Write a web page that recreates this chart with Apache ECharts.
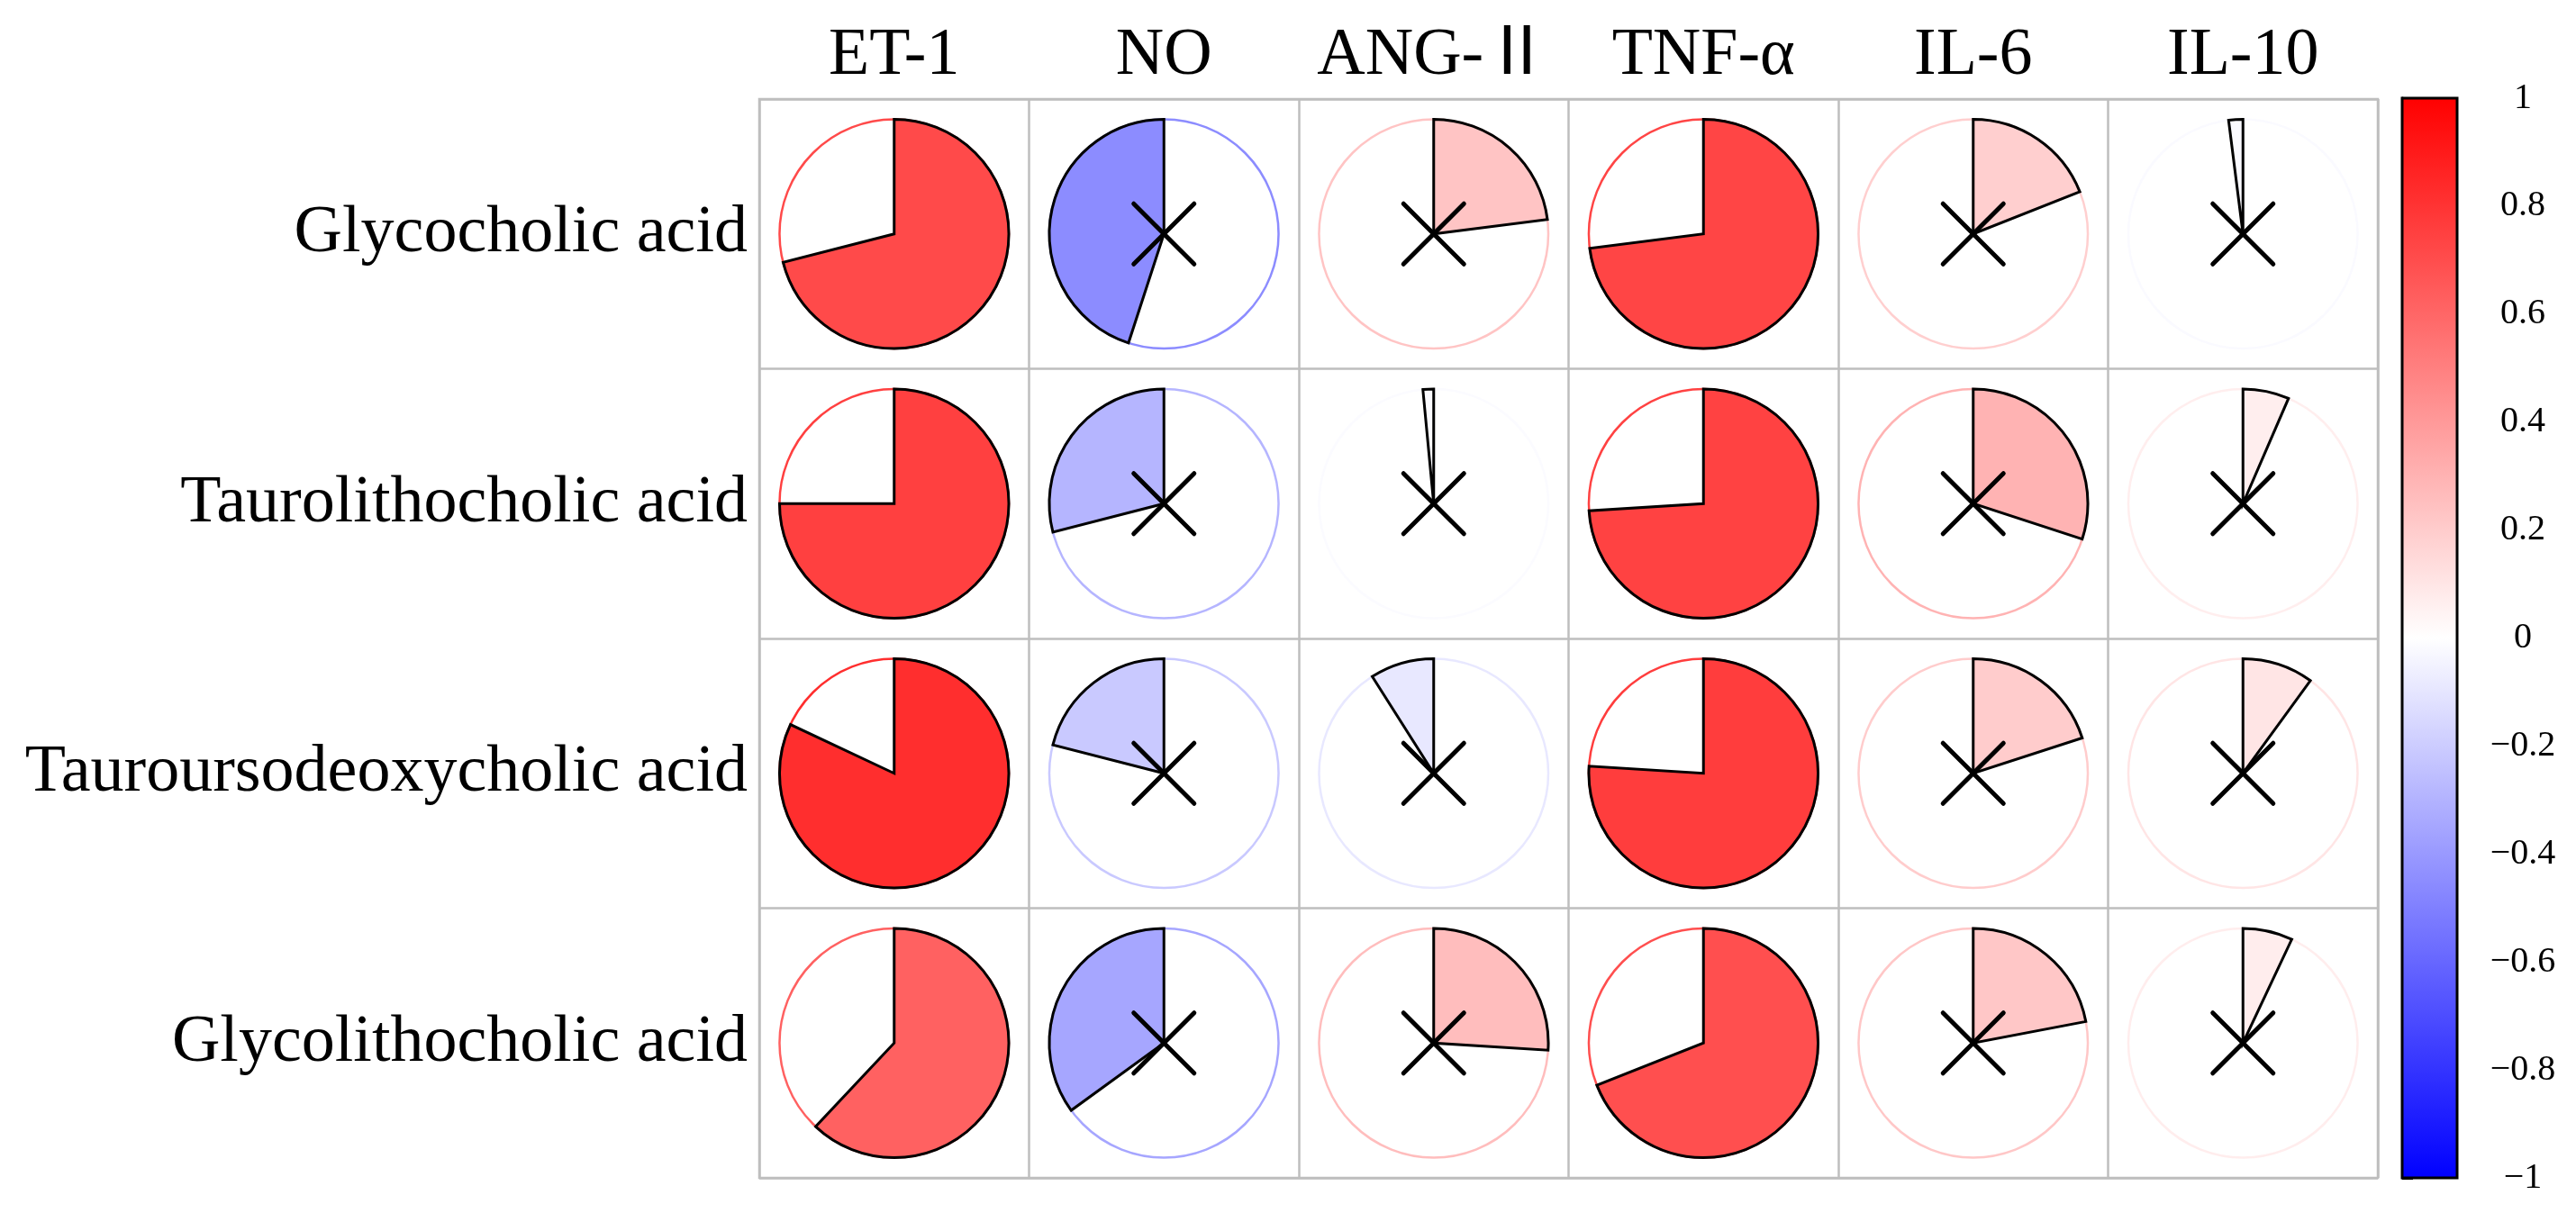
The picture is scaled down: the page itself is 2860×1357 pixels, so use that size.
<!DOCTYPE html>
<html>
<head>
<meta charset="utf-8">
<script src="https://cdn.jsdelivr.net/npm/echarts@6/dist/echarts.min.js"></script>
<style>
html,body{margin:0;padding:0;background:#fff;}
#chart{width:2860px;height:1357px;}
</style>
</head>
<body>
<div id="chart"></div>
<script>
// ---- data ----
const variables = ['ET-1', 'NO', 'ANG-Ⅱ', 'TNF-α', 'IL-6', 'IL-10'];
const acids = ['Glycocholic acid', 'Taurolithocholic acid', 'Tauroursodeoxycholic acid', 'Glycolithocholic acid'];
const corrGlycocholic = [0.71, -0.45, 0.23, 0.73, 0.19, -0.02];
const corrTaurolithocholic = [0.75, -0.29, -0.015, 0.74, 0.30, 0.065];
const corrTauroursodeoxycholic = [0.82, -0.21, -0.09, 0.76, 0.20, 0.10];
const corrGlycolithocholic = [0.62, -0.35, 0.26, 0.69, 0.22, 0.07];
const sigGlycocholic = [1, 0, 0, 1, 0, 0];
const sigTaurolithocholic = [1, 0, 0, 1, 0, 0];
const sigTauroursodeoxycholic = [1, 0, 0, 1, 0, 0];
const sigGlycolithocholic = [1, 0, 0, 1, 0, 0];
const colorbarMin = -1;
const colorbarMax = 1;
const colorbarStep = 0.2;

const corrRows = [corrGlycocholic, corrTaurolithocholic, corrTauroursodeoxycholic, corrGlycolithocholic];
const sigRows = [sigGlycocholic, sigTaurolithocholic, sigTauroursodeoxycholic, sigGlycolithocholic];

const cells = [];
corrRows.forEach((row, r) => {
  row.forEach((v, c) => {
    cells.push([c, r, v, sigRows[r][c]]);
  });
});

const FONT = "Liberation Serif, Noto Sans CJK SC, serif";

function renderCell(params, api) {
  const c = api.coord([api.value(0), api.value(1)]);
  const s = api.size([1, 1]);
  const cell = Math.min(s[0], s[1]);
  const R = cell * 0.425;
  const v = api.value(2);
  const sig = api.value(3);
  const color = api.visual('color');
  const start = -Math.PI / 2;
  const span = 2 * Math.PI * Math.abs(v);
  const children = [
    {
      type: 'circle',
      shape: { cx: c[0], cy: c[1], r: R },
      style: { fill: '#ffffff', stroke: color, lineWidth: 2.5 }
    },
    {
      type: 'sector',
      shape: {
        cx: c[0], cy: c[1], r0: 0, r: R,
        startAngle: v >= 0 ? start : start - span,
        endAngle: v >= 0 ? start + span : start,
        clockwise: true
      },
      style: { fill: color, stroke: '#000000', lineWidth: 3, lineJoin: 'miter' }
    }
  ];
  if (!sig) {
    const h = cell * 0.112;
    children.push({
      type: 'line',
      shape: { x1: c[0] - h, y1: c[1] - h, x2: c[0] + h, y2: c[1] + h },
      style: { stroke: '#000000', lineWidth: 5, lineCap: 'round' }
    });
    children.push({
      type: 'line',
      shape: { x1: c[0] + h, y1: c[1] - h, x2: c[0] - h, y2: c[1] + h },
      style: { stroke: '#000000', lineWidth: 5, lineCap: 'round' }
    });
  }
  return { type: 'group', children: children };
}

function renderColorbar(params, api) {
  const p0 = api.coord([0, colorbarMax]);
  const p1 = api.coord([1, colorbarMin]);
  return {
    type: 'rect',
    shape: { x: p0[0], y: p0[1], width: p1[0] - p0[0], height: p1[1] - p0[1] },
    style: {
      fill: new echarts.graphic.LinearGradient(0, 0, 0, 1, [
        { offset: 0, color: '#FF0000' },
        { offset: 0.5, color: '#FFFFFF' },
        { offset: 1, color: '#0000FF' }
      ]),
      stroke: '#000000',
      lineWidth: 3
    }
  };
}

const bigText = { fontSize: 74, fontFamily: FONT, fontWeight: 'normal', color: '#000000' };
const smallText = { fontSize: 40, fontFamily: FONT, fontWeight: 'normal', color: '#000000' };

const chart = echarts.init(document.getElementById('chart'), null, { renderer: 'canvas' });
chart.setOption({
  backgroundColor: '#ffffff',
  animation: false,
  textStyle: { fontFamily: FONT, color: '#000000' },
  grid: [
    { left: 843, top: 110, width: 1797, height: 1198, show: true, borderColor: '#BEBEBE', borderWidth: 2.5, backgroundColor: 'transparent', containLabel: false },
    { left: 2667, top: 109, width: 61, height: 1199, show: false, containLabel: false }
  ],
  xAxis: [
    {
      type: 'category', gridIndex: 0, data: variables, position: 'top',
      axisLine: { show: false }, axisTick: { show: false },
      splitLine: { show: true, interval: 0, lineStyle: { color: '#BEBEBE', width: 2.5 } },
      axisLabel: Object.assign({ interval: 0, margin: 10 }, bigText)
    },
    {
      type: 'value', gridIndex: 1, min: 0, max: 1, show: false
    }
  ],
  yAxis: [
    {
      type: 'category', gridIndex: 0, data: acids, inverse: true,
      axisLine: { show: false }, axisTick: { show: false },
      splitLine: { show: true, interval: 0, lineStyle: { color: '#BEBEBE', width: 2.5 } },
      axisLabel: Object.assign({ interval: 0, margin: 13 }, bigText)
    },
    {
      type: 'value', gridIndex: 1, min: colorbarMin, max: colorbarMax, interval: colorbarStep,
      position: 'right',
      axisLine: { show: true, lineStyle: { color: '#000000', width: 3 } },
      axisTick: { show: true, inside: false, length: 12, lineStyle: { color: '#000000', width: 3 } },
      splitLine: { show: false },
      axisLabel: Object.assign({
        margin: 73, align: 'center',
        showMinLabel: true, showMaxLabel: true,
        formatter: function (v) {
          const n = parseFloat(Number(v).toFixed(1));
          return (n < 0 ? '\u2212' : '') + String(Math.abs(n));
        }
      }, smallText)
    }
  ],
  visualMap: {
    type: 'continuous', show: false, min: colorbarMin, max: colorbarMax,
    dimension: 2, seriesIndex: 0,
    inRange: { color: ['#0000FF', '#FFFFFF', '#FF0000'] }
  },
  series: [
    {
      type: 'custom', name: 'correlation', xAxisIndex: 0, yAxisIndex: 0,
      renderItem: renderCell, data: cells,
      encode: { x: 0, y: 1 }, clip: false, z: 5
    },
    {
      type: 'custom', name: 'colorbar', xAxisIndex: 1, yAxisIndex: 1,
      renderItem: renderColorbar, data: [[0, 0]], silent: true, z: 1
    }
  ]
});
</script>
</body>
</html>
